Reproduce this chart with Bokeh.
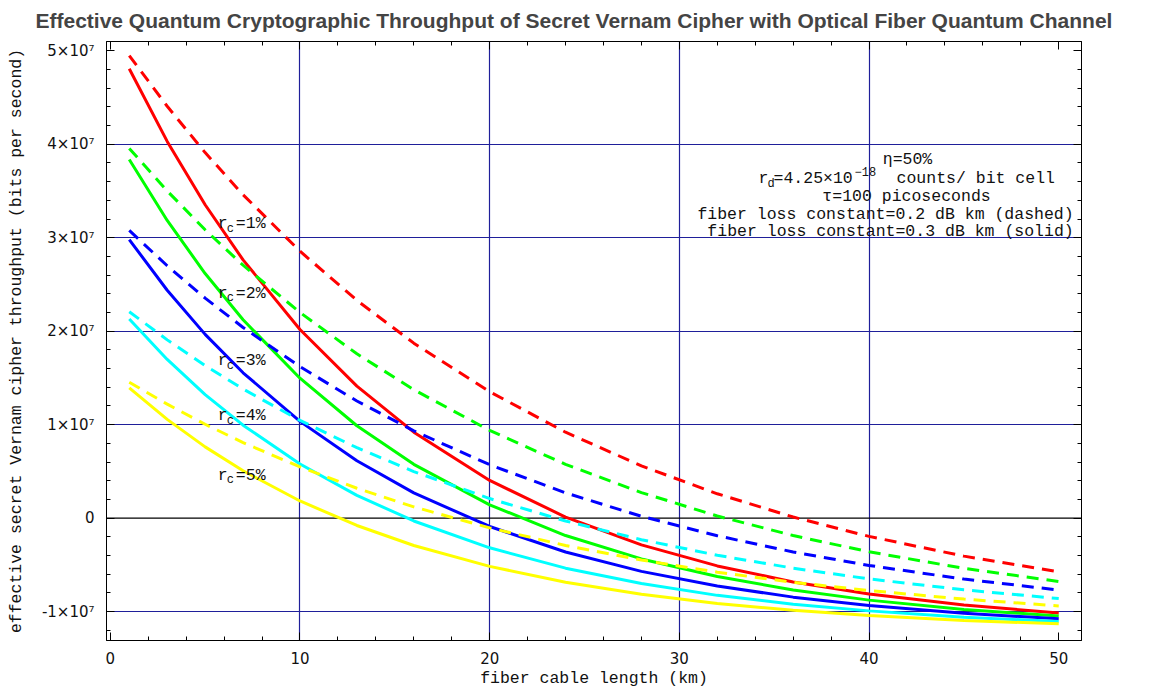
from bokeh.plotting import figure
from bokeh.models import (LinearAxis, SingleIntervalTicker, FixedTicker, Span,
                          Label, Range1d, CustomJSTickFormatter)
from bokeh.embed import file_html
from bokeh.resources import INLINE

# ---------------- data (throughput in units of 1e7 bits/s) ----------------
length_km = [1, 3, 5, 7, 10, 13, 16, 20, 24, 28, 32, 36, 40, 45, 50]

# fiber loss 0.3 dB/km (solid)
solid_rc1 = [4.809, 4.031, 3.353, 2.763, 2.018, 1.412, 0.919, 0.403, 0.011, -0.287, -0.512, -0.683, -0.812, -0.931, -1.016]
solid_rc2 = [3.838, 3.185, 2.617, 2.122, 1.497, 0.988, 0.575, 0.142, -0.187, -0.437, -0.626, -0.769, -0.878, -0.978, -1.049]
solid_rc3 = [2.980, 2.438, 1.966, 1.555, 1.035, 0.613, 0.270, -0.090, -0.363, -0.570, -0.727, -0.846, -0.936, -1.019, -1.078]
solid_rc4 = [2.131, 1.698, 1.321, 0.994, 0.579, 0.243, -0.031, -0.318, -0.536, -0.701, -0.827, -0.921, -0.993, -1.060, -1.107]
solid_rc5 = [1.393, 1.056, 0.762, 0.506, 0.183, -0.079, -0.293, -0.517, -0.687, -0.815, -0.913, -0.987, -1.043, -1.095, -1.132]

# fiber loss 0.2 dB/km (dashed)
dashed_rc1 = [4.949, 4.407, 3.911, 3.460, 2.856, 2.330, 1.872, 1.352, 0.919, 0.559, 0.260, 0.011, -0.196, -0.407, -0.574]
dashed_rc2 = [3.956, 3.501, 3.085, 2.706, 2.200, 1.758, 1.374, 0.938, 0.575, 0.273, 0.022, -0.187, -0.361, -0.538, -0.678]
dashed_rc3 = [3.078, 2.700, 2.354, 2.040, 1.620, 1.253, 0.934, 0.571, 0.270, 0.019, -0.189, -0.363, -0.507, -0.653, -0.770]
dashed_rc4 = [2.208, 1.907, 1.632, 1.381, 1.045, 0.753, 0.498, 0.209, -0.031, -0.231, -0.398, -0.536, -0.651, -0.768, -0.861]
dashed_rc5 = [1.454, 1.219, 1.004, 0.808, 0.547, 0.319, 0.120, -0.105, -0.293, -0.449, -0.579, -0.687, -0.776, -0.867, -0.940]

series_colors = ["#FF0000", "#00FF00", "#0000FF", "#00FFFF", "#FFFF00"]
rc_labels = ["1%", "2%", "3%", "4%", "5%"]
rc_label_y = [3.152, 2.407, 1.681, 1.096, 0.457]

y_tick_labels = {5: "5×10⁷", 4: "4×10⁷", 3: "3×10⁷", 2: "2×10⁷", 1: "1×10⁷",
                 0: "0", -1: "-1×10⁷"}

title_text = ("Effective Quantum Cryptographic Throughput of Secret Vernam "
              "Cipher with Optical Fiber Quantum Channel")

MONO = "Liberation Mono"
GRID = "#1f1f9a"

# ---------------- figure ----------------
p = figure(width=1150, height=692,
           x_range=Range1d(-0.2, 51.2), y_range=Range1d(-1.31, 5.1),
           output_backend="svg", toolbar_location=None,
           min_border_left=106, min_border_right=69,
           min_border_top=38, min_border_bottom=52,
           background_fill_color="white", border_fill_color="white",
           outline_line_color="black")

p.title.text = title_text
p.title.text_font = "Liberation Sans"
p.title.text_font_style = "bold"
p.title.text_font_size = "21px"
p.title.align = "left"
p.title.vertical_align = "top"
p.title.offset = -71
p.title.standoff = 16

xa = p.below[0]
ya = p.left[0]
xa.ticker = SingleIntervalTicker(interval=10, num_minor_ticks=5)
ya.ticker = SingleIntervalTicker(interval=1, num_minor_ticks=5)
ya.major_label_overrides = y_tick_labels

for ax in (xa, ya):
    ax.major_tick_in = 8
    ax.major_tick_out = 0
    ax.minor_tick_in = 4
    ax.minor_tick_out = 0
    ax.axis_line_color = "black"
    ax.major_tick_line_color = "black"
    ax.minor_tick_line_color = "black"
    ax.major_label_text_font = "DejaVu Sans"
    ax.major_label_text_font_size = "15px"
    ax.major_label_text_color = "#111111"
    ax.axis_label_text_font = MONO
    ax.axis_label_text_font_size = "16.5px"
    ax.axis_label_text_font_style = "normal"
    ax.axis_label_text_color = "#111111"

xa.axis_label = "fiber cable length (km)"
xa.major_label_standoff = 11
xa.axis_label_standoff = 2
ya.axis_label = "effective secret Vernam cipher throughput (bits per second)"
ya.major_label_standoff = 12
ya.axis_label_standoff = 13

# frame ticks on top and right, without labels
for side, interval in (("above", 10), ("right", 1)):
    ax = LinearAxis(ticker=SingleIntervalTicker(interval=interval, num_minor_ticks=5),
                    formatter=CustomJSTickFormatter(code="return ''"),
                    major_label_text_font_size="1px", major_label_standoff=0,
                    major_tick_in=8, major_tick_out=0, minor_tick_in=4,
                    minor_tick_out=0, axis_line_color="black",
                    major_tick_line_color="black", minor_tick_line_color="black")
    p.add_layout(ax, side)

# grid lines
p.xgrid.ticker = FixedTicker(ticks=[10, 20, 30, 40])
p.ygrid.ticker = FixedTicker(ticks=[-1, 1, 2, 3, 4])
p.xgrid.grid_line_color = GRID
p.ygrid.grid_line_color = GRID
p.xgrid.grid_line_width = 1.2
p.ygrid.grid_line_width = 1.2
p.add_layout(Span(location=0, dimension="width", line_color="black",
                  line_width=1.2, level="underlay"))

# ---------------- curves ----------------
solids = [solid_rc1, solid_rc2, solid_rc3, solid_rc4, solid_rc5]
dasheds = [dashed_rc1, dashed_rc2, dashed_rc3, dashed_rc4, dashed_rc5]
for vals, col in zip(solids, series_colors):
    p.line(length_km, vals, line_color=col, line_width=3)
for vals, col in zip(dasheds, series_colors):
    p.line(length_km, vals, line_color=col, line_width=3, line_dash="12 8")


def add_text(x, y, text, size="16.5px", dx=0, dy=0, align="left"):
    p.add_layout(Label(x=x, y=y, text=text, x_offset=dx, y_offset=dy,
                       text_font=MONO, text_font_size=size,
                       text_align=align, text_baseline="middle",
                       text_color="#111111"))


# r_c labels
for lab, yy in zip(rc_labels, rc_label_y):
    add_text(5.67, yy, "r")
    add_text(5.67, yy, "c", size="12px", dx=9, dy=-5)
    add_text(5.67, yy, "=" + lab, dx=18)

# parameter block
ax0 = 41.87
add_text(ax0, 3.84, "η=50%", align="center", dx=3)
add_text(ax0, 3.63, "r", dx=-146)
add_text(ax0, 3.63, "d", size="12px", dx=-137, dy=-5)
add_text(ax0, 3.63, "=4.25×10", dx=-131)
add_text(ax0, 3.63, "−18", size="12px", dx=-50, dy=7)
add_text(ax0, 3.63, "counts/ bit cell", dx=-8)
add_text(ax0, 3.436, "τ=100 picoseconds", align="center", dx=2)
add_text(ax0, 3.245, "fiber loss constant=0.2 dB km (dashed)", align="center", dx=-19)
add_text(ax0, 3.064, "fiber loss constant=0.3 dB km (solid)", align="center", dx=-14)

open("out.html", "w").write(file_html(p, INLINE))
